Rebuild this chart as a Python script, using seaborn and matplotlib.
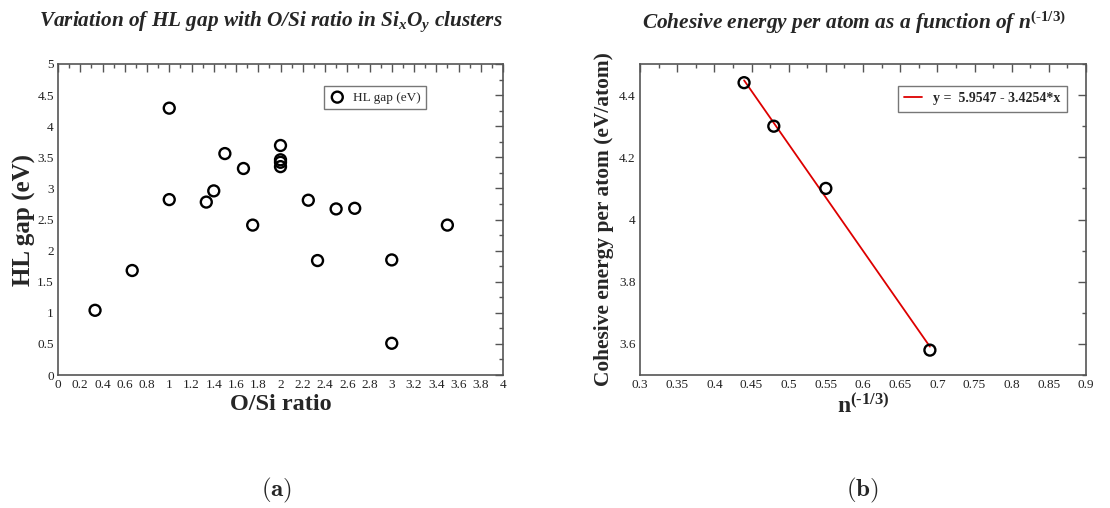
import numpy as np
import pandas as pd
import matplotlib
matplotlib.use("Agg")
import matplotlib.pyplot as plt
from matplotlib.ticker import MultipleLocator, FixedLocator, FuncFormatter
import seaborn as sns

# HOMO-LUMO gap of SixOy clusters against their O/Si ratio
os_ratio = [0.333, 0.667, 1.0, 1.0, 1.333, 1.4, 1.5, 1.667, 1.75,
            2.0, 2.0, 2.0, 2.0, 2.25, 2.333, 2.5, 2.667, 3.0, 3.0, 3.5]
hl_gap = [1.04, 1.68, 4.29, 2.82, 2.78, 2.96, 3.56, 3.32, 2.41,
          3.69, 3.46, 3.42, 3.35, 2.81, 1.84, 2.67, 2.68, 1.85, 0.51, 2.41]

# Cohesive energy per atom against n^(-1/3), with its linear fit
n_inv_cbrt = [0.44, 0.48, 0.55, 0.69]
cohesive = [4.44, 4.30, 4.10, 3.58]
fit_intercept = 5.9547
fit_slope = -3.4254

sns.set_style("white")
plt.rcParams["font.family"] = ["Liberation Serif", "DejaVu Serif"]
plt.rcParams["mathtext.fontset"] = "custom"
plt.rcParams["mathtext.rm"] = "Liberation Serif:bold"
plt.rcParams["mathtext.it"] = "Liberation Serif:italic:bold"
plt.rcParams["mathtext.bf"] = "Liberation Serif:bold"

EDGE = "#555555"
HY = "\u2010"  # plain hyphen inside math text

fig = plt.figure(figsize=(11.10, 5.08), dpi=100)
ax_a = fig.add_axes([58 / 1110, 1 - 375 / 508, 445 / 1110, 311 / 508])
ax_b = fig.add_axes([640 / 1110, 1 - 375 / 508, 446 / 1110, 311 / 508])

fmt = FuncFormatter(lambda v, p: f"{round(v, 3):g}")


def style_axes(ax):
    for s in ax.spines.values():
        s.set_visible(True)
        s.set_color(EDGE)
        s.set_linewidth(1.2)
    ax.tick_params(which="both", direction="in", top=True, right=True,
                   color=EDGE, width=1.0, labelsize=9.5, pad=3,
                   labelcolor="#222222")
    ax.tick_params(which="major", length=6)
    ax.tick_params(which="minor", length=3)
    ax.xaxis.set_major_formatter(fmt)
    ax.yaxis.set_major_formatter(fmt)


# ---- (a) HL gap vs O/Si ratio ----
df_a = pd.DataFrame({"ratio": os_ratio, "gap": hl_gap})
sns.scatterplot(data=df_a, x="ratio", y="gap", ax=ax_a, marker="o", s=62,
                facecolors="none", edgecolor="black", linewidth=1.7,
                label="HL gap (eV)")
ax_a.set_xlim(0, 4)
ax_a.set_ylim(0, 5)
ax_a.xaxis.set_major_locator(MultipleLocator(0.2))
ax_a.xaxis.set_minor_locator(MultipleLocator(0.1))
ax_a.yaxis.set_major_locator(MultipleLocator(0.5))
ax_a.yaxis.set_minor_locator(MultipleLocator(0.25))
style_axes(ax_a)
ax_a.set_xlabel("O/Si ratio", fontsize=17.5, fontweight="bold", labelpad=2)
ax_a.set_ylabel("HL gap (eV)", fontsize=18, fontweight="bold", labelpad=1)
ax_a.set_title(r"Variation of HL gap with O/Si ratio in Si$_{x}$O$_{y}$ clusters",
               fontsize=15.3, fontweight="bold", fontstyle="italic", pad=27,
               x=0.479)
leg_a = ax_a.legend(loc="upper left", bbox_to_anchor=(0.598, 0.929),
                    borderaxespad=0, fancybox=False, fontsize=9.5,
                    handletextpad=0.6, borderpad=0.4, handlelength=1.2)
leg_a.get_frame().set_edgecolor(EDGE)
leg_a.get_frame().set_linewidth(1.0)

# ---- (b) cohesive energy vs n^(-1/3) ----
df_b = pd.DataFrame({"x": n_inv_cbrt, "E": cohesive})
fit_x = np.array([min(n_inv_cbrt), max(n_inv_cbrt)])
df_fit = pd.DataFrame({"x": fit_x, "E": fit_intercept + fit_slope * fit_x})
sns.lineplot(data=df_fit, x="x", y="E", ax=ax_b, color="#dd0000", linewidth=1.3,
             label=r"y =  5.9547 - 3.4254*x")
sns.scatterplot(data=df_b, x="x", y="E", ax=ax_b, marker="o", s=62,
                facecolors="none", edgecolor="black", linewidth=1.7, legend=False,
                zorder=3)
ax_b.set_xlim(0.3, 0.9)
ax_b.set_ylim(3.5, 4.5)
ax_b.xaxis.set_major_locator(MultipleLocator(0.05))
ax_b.xaxis.set_minor_locator(MultipleLocator(0.025))
ax_b.yaxis.set_major_locator(FixedLocator([3.6, 3.8, 4.0, 4.2, 4.4]))
ax_b.yaxis.set_minor_locator(FixedLocator([3.5, 3.7, 3.9, 4.1, 4.3, 4.5]))
style_axes(ax_b)
ax_b.set_xlabel(r"n$^{\mathbf{(" + HY + r"1/3)}}$", fontsize=17, fontweight="bold",
                labelpad=2)
ax_b.set_ylabel("Cohesive energy per atom (eV/atom)", fontsize=15.4,
                fontweight="bold", labelpad=4)
ax_b.set_title(r"Cohesive energy per atom as a function of n$^{\mathit{(" + HY + r"1/3)}}$",
               fontsize=15.4, fontweight="bold", fontstyle="italic", pad=25,
               x=0.479)
leg_b = ax_b.legend(loc="upper left", bbox_to_anchor=(0.578, 0.929),
                    borderaxespad=0, fancybox=False,
                    prop={"size": 10, "weight": "bold"},
                    handletextpad=0.8, borderpad=0.45, handlelength=1.3)
leg_b.get_frame().set_edgecolor(EDGE)
leg_b.get_frame().set_linewidth(1.0)

# panel captions
fig.text(277 / 1110, 1 - 490 / 508, r"$\mathbf{(a)}$", math_fontfamily="cm",
         fontsize=18, ha="center", va="center")
fig.text(862 / 1110, 1 - 490 / 508, r"$\mathbf{(b)}$", math_fontfamily="cm",
         fontsize=18, ha="center", va="center")

fig.savefig("out.png", dpi=100, facecolor="white")
